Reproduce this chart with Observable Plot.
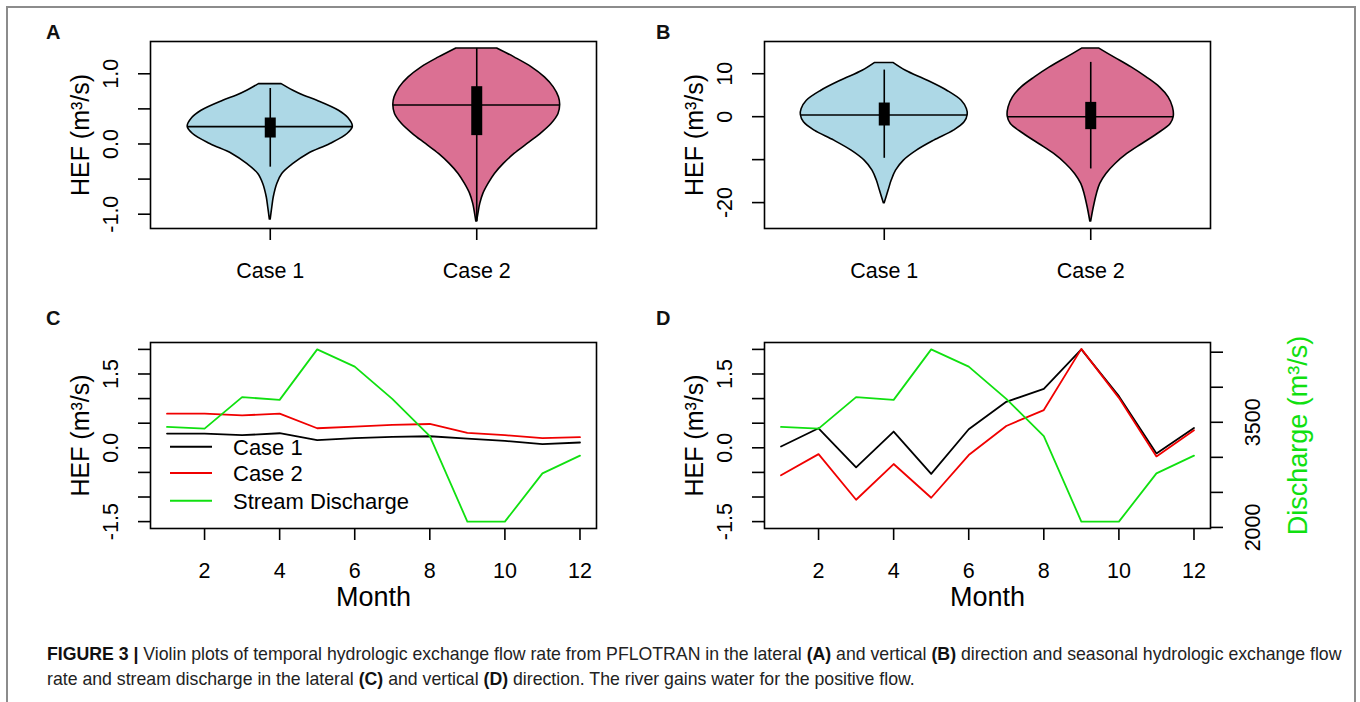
<!DOCTYPE html>
<html><head><meta charset="utf-8">
<script src="https://cdn.jsdelivr.net/npm/d3@7"></script>
<script src="https://cdn.jsdelivr.net/npm/@observablehq/plot@0.6"></script>
<style>
body{margin:0;background:#fff;font-family:"Liberation Sans",Arial,sans-serif;}
#page{position:relative;width:1360px;height:702px;overflow:hidden;background:#fff;}
#border{position:absolute;left:6px;top:6px;width:1350px;height:780px;border:2px solid #8c8c8c;box-sizing:border-box;}
.panel{position:absolute;}
.panel svg{overflow:visible;}
.letter{position:absolute;font-weight:bold;font-size:20px;line-height:20px;color:#111;}
#caption{position:absolute;left:47px;top:642px;font-size:17.7px;line-height:25px;color:#222;white-space:nowrap;}
#caption b{color:#111;}
#legend{position:absolute;left:160px;top:430px;}
</style></head>
<body><div id="page">
<div id="border"></div>
<div class="letter" style="left:46px;top:22px">A</div>
<div class="letter" style="left:656px;top:22px">B</div>
<div class="letter" style="left:46px;top:308px">C</div>
<div class="letter" style="left:656px;top:308px">D</div>
<div class="panel" id="pA" style="left:0;top:0;width:660px;height:300px"></div>
<div class="panel" id="pB" style="left:660px;top:0;width:700px;height:300px"></div>
<div class="panel" id="pC" style="left:0;top:300px;width:660px;height:320px"></div>
<div class="panel" id="pD" style="left:660px;top:300px;width:700px;height:320px"></div>
<svg id="legend" width="300" height="90" font-family="Liberation Sans, Arial, sans-serif" font-size="22">
  <line x1="10" x2="52" y1="16.7" y2="16.7" stroke="black" stroke-width="2"/>
  <line x1="10" x2="52" y1="43" y2="43" stroke="#f00000" stroke-width="2"/>
  <line x1="10" x2="52" y1="70.7" y2="70.7" stroke="#10e010" stroke-width="2"/>
  <text x="73" y="24.7">Case 1</text>
  <text x="73" y="51">Case 2</text>
  <text x="73" y="78.7">Stream Discharge</text>
</svg>
<div id="caption"><b>FIGURE 3 |</b> Violin plots of temporal hydrologic exchange flow rate from PFLOTRAN in the lateral <b>(A)</b> and vertical <b>(B)</b> direction and seasonal hydrologic exchange flow<br>rate and stream discharge in the lateral <b>(C)</b> and vertical <b>(D)</b> direction. The river gains water for the positive flow.</div>
</div>
<script>
// ---------- data ----------
const cases = ["Case 1", "Case 2"];
const caseFill = ["#add8e6", "#db7093"];

// violin outlines: [HEF value, half-width in category units]
const latCase1Outline = [[0.853,0.055],[0.759,0.112],[0.687,0.164],[0.616,0.228],[0.474,0.333],[0.37,0.378],[0.247,0.40],[0.142,0.374],[0.0,0.291],[-0.142,0.184],[-0.284,0.112],[-0.427,0.058],[-0.569,0.034],[-0.759,0.017],[-0.901,0.01],[-1.076,0.002]];
const latCase2Outline = [[1.361,0.099],[1.233,0.183],[1.091,0.267],[0.948,0.330],[0.806,0.373],[0.664,0.398],[0.555,0.404],[0.427,0.396],[0.284,0.362],[0.142,0.309],[0,0.246],[-0.142,0.183],[-0.284,0.131],[-0.427,0.088],[-0.569,0.057],[-0.711,0.032],[-0.853,0.017],[-0.996,0.008],[-1.105,0.002]];
const vertCase1Outline = [[12.48,0.046],[10.70,0.105],[8.37,0.211],[6.05,0.305],[3.72,0.375],[1.78,0.40],[0.39,0.404],[-1.32,0.389],[-3.26,0.337],[-5.58,0.242],[-7.91,0.158],[-10.23,0.095],[-12.56,0.057],[-14.88,0.036],[-17.21,0.021],[-20.16,0.002]];
const vertCase2Outline = [[15.89,0.040],[13.80,0.114],[11.47,0.198],[9.15,0.271],[6.82,0.335],[4.50,0.377],[2.17,0.398],[0,0.402],[-1.71,0.387],[-4.03,0.324],[-6.36,0.250],[-8.68,0.177],[-11.01,0.120],[-13.33,0.076],[-15.66,0.046],[-17.98,0.030],[-21.09,0.015],[-24.42,0.002]];

const latMedian = [0.247, 0.555], latQ1 = [0.085, 0.119], latQ3 = [0.37, 0.816], latLo = [-0.33, -1.105], latHi = [0.79, 1.361];
const vertMedian = [0.39, 0], vertQ1 = [-2.17, -3.02], vertQ3 = [3.18, 3.33], vertLo = [-9.69, -12.17], vertHi = [10.85, 12.64];

const latTicks = [-1, -0.5, 0, 0.5, 1], latTickLabels = [-1, 0, 1];
const vertTicks = [-20, -10, 0, 10], vertTickLabels = [-20, 0, 10];

const months = [1,2,3,4,5,6,7,8,9,10,11,12];
const monthTicks = [2,4,6,8,10,12];
const latCase1 = [0.29, 0.29, 0.256, 0.296, 0.155, 0.195, 0.222, 0.235, 0.188, 0.141, 0.074, 0.108];
const latCase2 = [0.693, 0.693, 0.659, 0.693, 0.397, 0.43, 0.464, 0.484, 0.303, 0.256, 0.195, 0.215];
const vertCase1 = [0.027, 0.397, -0.397, 0.33, -0.531, 0.377, 0.935, 1.197, 2.0, 1.05, -0.114, 0.403];
const vertCase2 = [-0.558, -0.128, -1.056, -0.33, -1.015, -0.148, 0.444, 0.767, 2.01, 1.015, -0.175, 0.356];
const discharge = [3434, 3410, 3859, 3820, 4540, 4294, 3834, 3304, 2083, 2083, 2771, 3024];
const hefLimits = [-1.5, 2.0];
const hefTicks = [-1.5, -1, -0.5, 0, 0.5, 1, 1.5, 2], hefTickLabels = [-1.5, 0, 1.5];
const dischargeTicks = [2000, 2500, 3000, 3500, 4000, 4500], dischargeTickLabels = [2000, 3500];

// ---------- helpers ----------
const FONT = "Liberation Sans, Arial, sans-serif";
const pad = ([a, b]) => [a - 0.04 * (b - a), b + 0.04 * (b - a)]; // R's default axis expansion
const GREEN = "#10e010", RED = "#f00000";
const style = {fontFamily: FONT, fontSize: "21.5px", background: "transparent", overflow: "visible", color: "black"};

function violinPanel(outlines, median, q1, q3, lo, hi, ticks, tickLabels, digits, geom) {
  const allV = outlines.flat().map(d => d[0]);
  const marks = [];
  outlines.forEach((outline, i) => {
    const pos = i + 1;
    const rows = outline.map(([v, hw]) => ({v, hw}));
    marks.push(Plot.areaX(rows, {y: "v", x1: d => pos - d.hw, x2: d => pos + d.hw, fill: caseFill[i], stroke: "black", strokeWidth: 1.6, curve: "catmull-rom"}));
    const w = d3.max(outline, d => d[1]);
    marks.push(Plot.ruleY([median[i]], {x1: pos - w, x2: pos + w, stroke: "black", strokeWidth: 1.6}));
  });
  marks.push(
    Plot.ruleX(cases, {x: (d, i) => i + 1, y1: (d, i) => lo[i], y2: (d, i) => hi[i], stroke: "black", strokeWidth: 1.6}),
    Plot.ruleX(cases, {x: (d, i) => i + 1, y1: (d, i) => q1[i], y2: (d, i) => q3[i], stroke: "black", strokeWidth: 11, strokeLinecap: "butt"}),
    Plot.frame({stroke: "black", strokeWidth: 1.6}),
    Plot.axisX({ticks: [1, 2], tickFormat: d => cases[d - 1], tickSize: 12, tickPadding: 22, strokeWidth: 1.6, label: null}),
    Plot.axisY({ticks, tickFormat: d => tickLabels.includes(d) ? d.toFixed(digits) : "", tickRotate: -90, tickSize: 12, tickPadding: 21, strokeWidth: 1.6, label: null}),
    Plot.text(["HEF (m³/s)"], {frameAnchor: "left", dx: -79, rotate: -90, textAnchor: "middle", lineAnchor: "top", fontSize: 25})
  );
  return Plot.plot({
    ...geom, style,
    x: {domain: pad([0.5, 2.5]), label: null},
    y: {domain: pad(d3.extent(allV)), label: null},
    marks
  });
}

const toHEF = d3.scaleLinear().domain(d3.extent(discharge)).range(hefLimits);

function seriesPanel(c1, c2, rightAxis, geom) {
  const marks = [
    Plot.line(months, {x: d => d, y: (d, i) => c1[i], stroke: "black", strokeWidth: 1.8}),
    Plot.line(months, {x: d => d, y: (d, i) => c2[i], stroke: RED, strokeWidth: 1.8}),
    Plot.line(months, {x: d => d, y: (d, i) => toHEF(discharge[i]), stroke: GREEN, strokeWidth: 1.8}),
    Plot.frame({stroke: "black", strokeWidth: 1.6}),
    Plot.axisX({ticks: monthTicks, tickSize: 12, tickPadding: 22, strokeWidth: 1.6, label: null}),
    Plot.axisY({ticks: hefTicks, tickFormat: d => hefTickLabels.includes(d) ? d.toFixed(1) : "", tickRotate: -90, tickSize: 12, tickPadding: 21, strokeWidth: 1.6, label: null}),
    Plot.text(["HEF (m³/s)"], {frameAnchor: "left", dx: -79, rotate: -90, textAnchor: "middle", lineAnchor: "top", fontSize: 25}),
    Plot.text(["Month"], {frameAnchor: "bottom", dy: 58, lineAnchor: "top", fontSize: 27})
  ];
  if (rightAxis) {
    marks.push(
      Plot.axisY(dischargeTicks.map(d => toHEF(d)), {anchor: "right", tickFormat: d => { const q = Math.round(toHEF.invert(d)); return dischargeTickLabels.includes(q) ? String(q) : ""; }, tickRotate: -90, tickSize: 12, tickPadding: 37, strokeWidth: 1.6, label: null}),
      Plot.text(["Discharge (m³/s)"], {frameAnchor: "right", dx: 77, rotate: -90, textAnchor: "middle", lineAnchor: "top", fontSize: 27, fill: GREEN})
    );
  }
  return Plot.plot({
    ...geom, style,
    x: {domain: pad([1, 12]), label: null},
    y: {domain: pad(hefLimits), label: null},
    marks
  });
}

document.getElementById("pA").append(violinPanel([latCase1Outline, latCase2Outline], latMedian, latQ1, latQ3, latLo, latHi, latTicks, latTickLabels, 1,
  {width: 660, height: 300, marginLeft: 150, marginRight: 64, marginTop: 41, marginBottom: 72}));
document.getElementById("pB").append(violinPanel([vertCase1Outline, vertCase2Outline], vertMedian, vertQ1, vertQ3, vertLo, vertHi, vertTicks, vertTickLabels, 0,
  {width: 700, height: 300, marginLeft: 104, marginRight: 150, marginTop: 41, marginBottom: 72}));
document.getElementById("pC").append(seriesPanel(latCase1, latCase2, false,
  {width: 660, height: 320, marginLeft: 150, marginRight: 64, marginTop: 42, marginBottom: 92}));
document.getElementById("pD").append(seriesPanel(vertCase1, vertCase2, true,
  {width: 700, height: 320, marginLeft: 104, marginRight: 150, marginTop: 42, marginBottom: 92}));
</script>
</body></html>
